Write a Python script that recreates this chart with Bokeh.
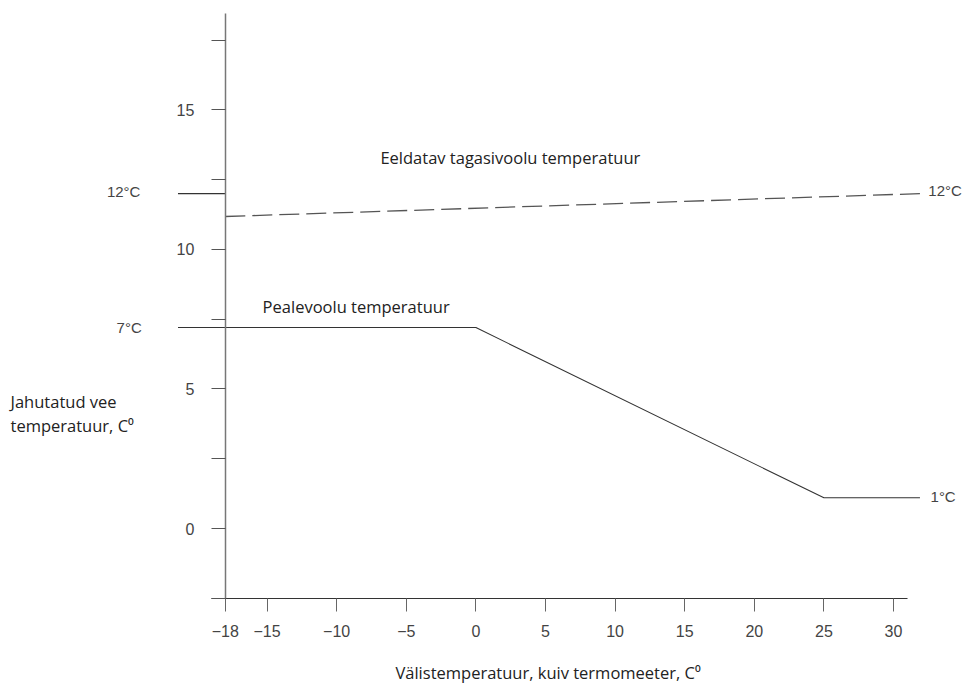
from bokeh.plotting import figure
from bokeh.models import Range1d, LinearAxis, FixedTicker
from bokeh.core.properties import value
from bokeh.embed import file_html
from bokeh.resources import INLINE

# --- data ---
supply_x = [-21.4, 0, 25, 31.9]
supply_y = [7.2, 7.2, 1.1, 1.1]
return_x = [-18, 31.9]
return_y = [11.18, 12.0]
ref12_x = [-21.4, -18]
ref12_y = [12.0, 12.0]

x_ticks = [-18, -15, -10, -5, 0, 5, 10, 15, 20, 25, 30]
x_tick_labels = ["\u221218", "\u221215", "\u221210", "\u22125", "0", "5", "10", "15", "20", "25", "30"]
y_ticks = [0, 5, 10, 15]
y_minor = [-2.5, 2.5, 7.5, 12.5, 17.5]

val_labels = ["12\u00b0C", "7\u00b0C"]
val_x = [-24.1, -24.0]
val_y = [12.08, 7.2]
val_labels_r = ["12\u00b0C", "1\u00b0C"]
val_xr = [32.5, 32.66]
val_yr = [12.11, 1.15]

curve_labels = ["Eeldatav tagasivoolu temperatuur", "Pealevoolu temperatuur"]
curve_lx = [-6.86, -15.32]
curve_ly = [13.30, 7.96]

y_title = ["Jahutatud vee", "temperatuur, C\u2070"]
y_title_x = [-33.43, -33.43]
y_title_y = [4.55, 3.69]
x_title = ["V\u00e4listemperatuur, kuiv termomeeter, C\u2070"]
x_title_x = [-5.78]
x_title_y = [-5.16]

p = figure(width=964, height=684, x_range=Range1d(-34.15, 35.1), y_range=Range1d(-5.59, 18.92),
           x_axis_type=None, y_axis_type=None, min_border=0, outline_line_color=None,
           toolbar_location=None, output_backend="svg")
p.grid.visible = False

yax = LinearAxis(fixed_location=-18, bounds=(-2.5, 18.46),
                 ticker=FixedTicker(ticks=y_ticks, minor_ticks=y_minor))
yax.axis_line_color = "#777777"
yax.axis_line_width = 1.5
yax.major_tick_out = 14
yax.major_tick_in = 0
yax.minor_tick_out = 14
yax.minor_tick_in = 0
yax.major_tick_line_color = "#555555"
yax.minor_tick_line_color = "#555555"
yax.major_label_standoff = 17
yax.major_label_text_font = "Liberation Sans"
yax.major_label_text_font_size = "16px"
yax.major_label_text_color = "#444444"
p.add_layout(yax, "left")

xax = LinearAxis(fixed_location=-2.5, bounds=(-19.0, 31.0),
                 ticker=FixedTicker(ticks=x_ticks, minor_ticks=[]))
xax.major_label_overrides = {t: l for t, l in zip(x_ticks, x_tick_labels)}
xax.axis_line_color = "#333333"
xax.axis_line_width = 1.2
xax.major_tick_out = 13
xax.major_tick_in = 0
xax.major_tick_line_color = "#666666"
xax.major_label_standoff = 14
xax.major_label_text_font = "Liberation Sans"
xax.major_label_text_font_size = "16px"
xax.major_label_text_color = "#444444"
p.add_layout(xax, "below")

p.line(supply_x, supply_y, line_color="#333333", line_width=1.1)
p.line(ref12_x, ref12_y, line_color="#333333", line_width=1.1)
p.line(return_x, return_y, line_color="#555555", line_width=1.3, line_dash="20 7")

p.text(val_x, val_y, text=val_labels, text_align="right", text_baseline="middle",
       text_font=value("Liberation Sans"), text_font_size="15px", text_color="#444444")
p.text(val_xr, val_yr, text=val_labels_r, text_align="left", text_baseline="middle",
       text_font=value("Liberation Sans"), text_font_size="15px", text_color="#444444")
p.text(curve_lx, curve_ly, text=curve_labels, text_align="left", text_baseline="middle",
       text_font=value("Open Sans"), text_font_size="16.5px", text_color="#222222")
p.text(y_title_x, y_title_y, text=y_title, text_align="left", text_baseline="middle",
       text_font=value("Open Sans"), text_font_size="16.5px", text_color="#222222")
p.text(x_title_x, x_title_y, text=x_title, text_align="left", text_baseline="middle",
       text_font=value("Open Sans"), text_font_size="16.5px", text_color="#222222")

open("out.html", "w").write(file_html(p, INLINE))
